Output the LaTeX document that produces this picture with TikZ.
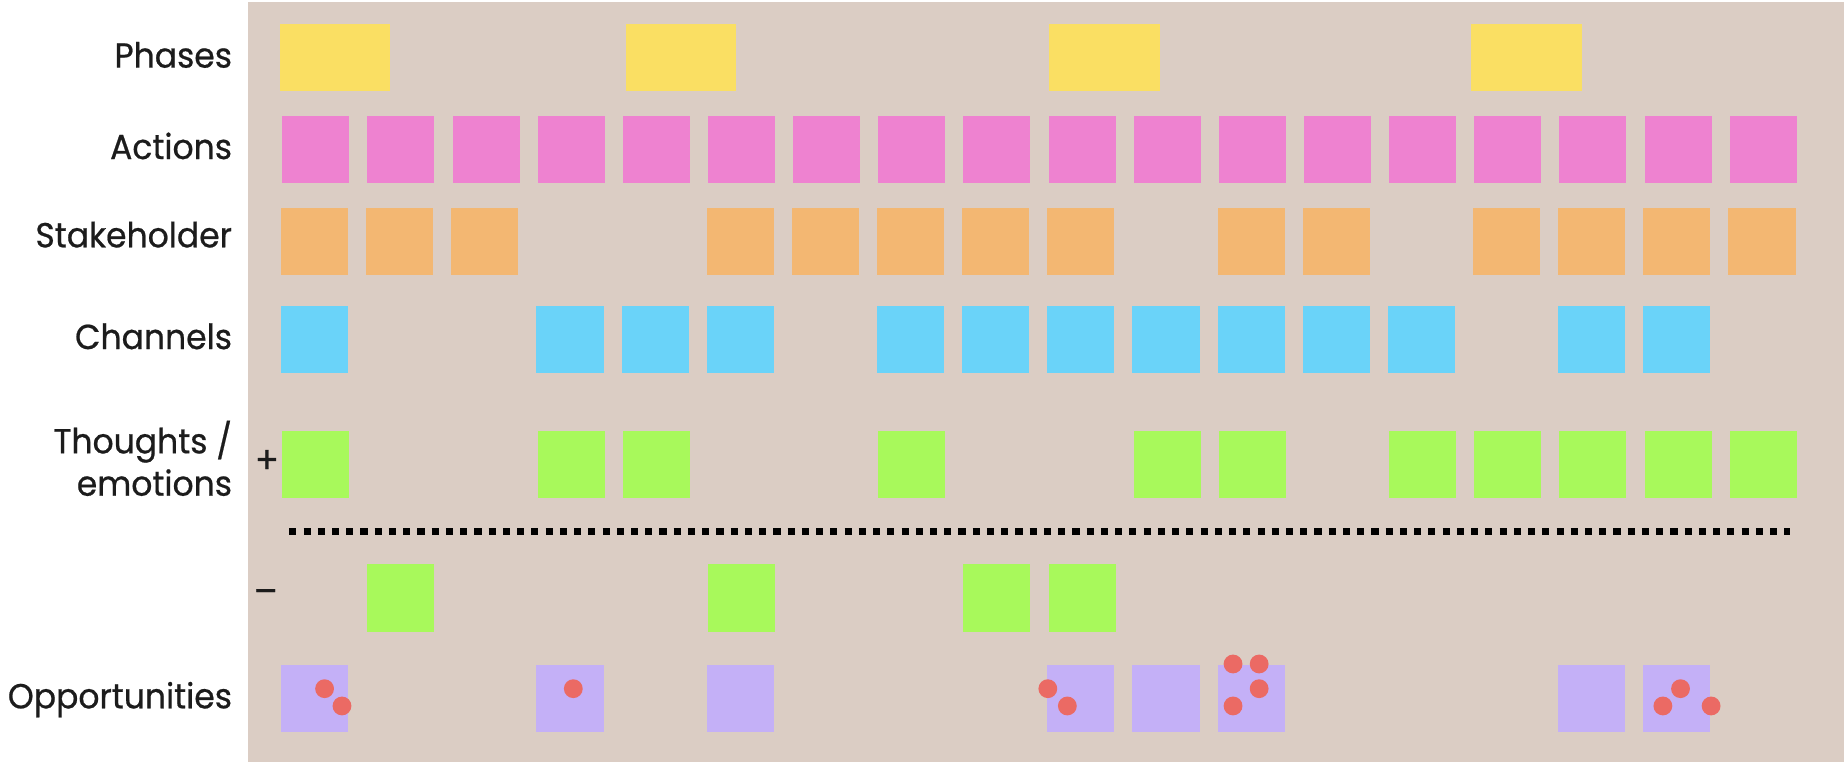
\documentclass[tikz,border=0pt]{standalone}
\usepackage{fontspec}
\setmainfont{Poppins}[FakeStretch=0.95,FakeBold=0.6]
\usepackage{tikz}

\definecolor{boardbeige}{HTML}{DBCDC4}
\definecolor{phaseyellow}{HTML}{FADF63}
\definecolor{actionpink}{HTML}{EE82D0}
\definecolor{holderorange}{HTML}{F3B772}
\definecolor{channelblue}{HTML}{6AD3F9}
\definecolor{feelgreen}{HTML}{A8F95B}
\definecolor{opplavender}{HTML}{C4B0F7}
\definecolor{dotred}{HTML}{EB6A64}
\definecolor{labelgray}{HTML}{1C1C1C}

\tikzset{
	sticky/.style={minimum width=0.57cm,minimum height=0.57cm,inner sep=0pt},
	phasebox/.style={minimum width=0.94cm,minimum height=0.57cm,inner sep=0pt,fill=phaseyellow},
	oppdot/.style={circle,fill=dotred,minimum size=0.16cm,inner sep=0pt},
	rowlabel/.style={anchor=base east,inner sep=0pt,text=labelgray,font=\fontsize{8.4}{10}\selectfont},
}

\begin{document}
\begin{tikzpicture}[x=0.01cm,y=-0.01cm]
		\useasboundingbox (0,0) rectangle (1568,648);
		\fill[boardbeige] (211,2) rectangle (1568,648);

		% row labels
		\node[rowlabel] (lPhases) at (198,57.5) {Phases};
		\node[rowlabel] (lActions) at (198,135.2) {Actions};
		\node[rowlabel] (lHolder) at (198,210.3) {Stakeholder};
		\node[rowlabel] (lChannels) at (198,296.8) {Channels};
		\node[rowlabel] (lThoughts) at (198,385.5) {Thoughts /};
		\node[rowlabel] (lEmotions) at (198,421.5) {emotions};
		\node[rowlabel] (lOpp) at (198,602.3) {Opportunities};
		\node[text=labelgray,inner sep=0pt,font=\fontsize{9}{10}\selectfont] (plus) at (227,392.5) {+};
		\node[text=labelgray,inner sep=0pt,font=\fontsize{9}{10}\selectfont] (minus) at (226,507.4) {\textendash};

		% phases
		\node[phasebox] (P1) at (285,48.5) {};
		\node[phasebox] (P2) at (579,48.5) {};
		\node[phasebox] (P3) at (939,48.5) {};
		\node[phasebox] (P4) at (1298,48.5) {};

		% sticky rows
		\begin{scope}[every node/.style={sticky}]
			\foreach \c in {0,...,17}
				\node[fill=actionpink] (A\c) at ({268.5+72.4*\c},127) {};
			\foreach \c in {0,1,2,5,6,7,8,9,11,12,14,15,16,17}
				\node[fill=holderorange] (S\c) at ({267.5+72.4*\c},205.5) {};
			\foreach \c in {0,3,4,5,7,8,9,10,11,12,13,15,16}
				\node[fill=channelblue] (C\c) at ({267.5+72.4*\c},288.5) {};
			\foreach \c in {0,3,4,7,10,11,13,14,15,16,17}
				\node[fill=feelgreen] (T\c) at ({268.5+72.4*\c},395) {};
			\foreach \c in {1,5,8,9}
				\node[fill=feelgreen] (N\c) at ({268.5+72.4*\c},508.5) {};
			\foreach \c in {0,3,5,9,10,11,15,16}
				\node[fill=opplavender] (O\c) at ({267.5+72.4*\c},594) {};
		\end{scope}

		% divider between + and -
		\coordinate (sepL) at (246,452);
		\coordinate (sepR) at (1522,452);
		\draw[line width=0.057cm,dash pattern=on 0.0605cm off 0.0605cm] (sepL) -- (sepR);

		% votes on opportunities
		\node[oppdot] (v1) at (276,585.6) {};
		\node[oppdot] (v2) at (290.8,600.3) {};
		\node[oppdot] (v3) at (487.5,585.6) {};
		\node[oppdot] (v4) at (891,585.6) {};
		\node[oppdot] (v5) at (907.6,600.3) {};
		\node[oppdot] (v6) at (1048.5,564.6) {};
		\node[oppdot] (v7) at (1070.7,564.6) {};
		\node[oppdot] (v8) at (1070.7,585.6) {};
		\node[oppdot] (v9) at (1048.5,600.3) {};
		\node[oppdot] (v10) at (1429,585.6) {};
		\node[oppdot] (v11) at (1414,600.3) {};
		\node[oppdot] (v12) at (1455,600.3) {};
	\end{tikzpicture}
\end{document}
